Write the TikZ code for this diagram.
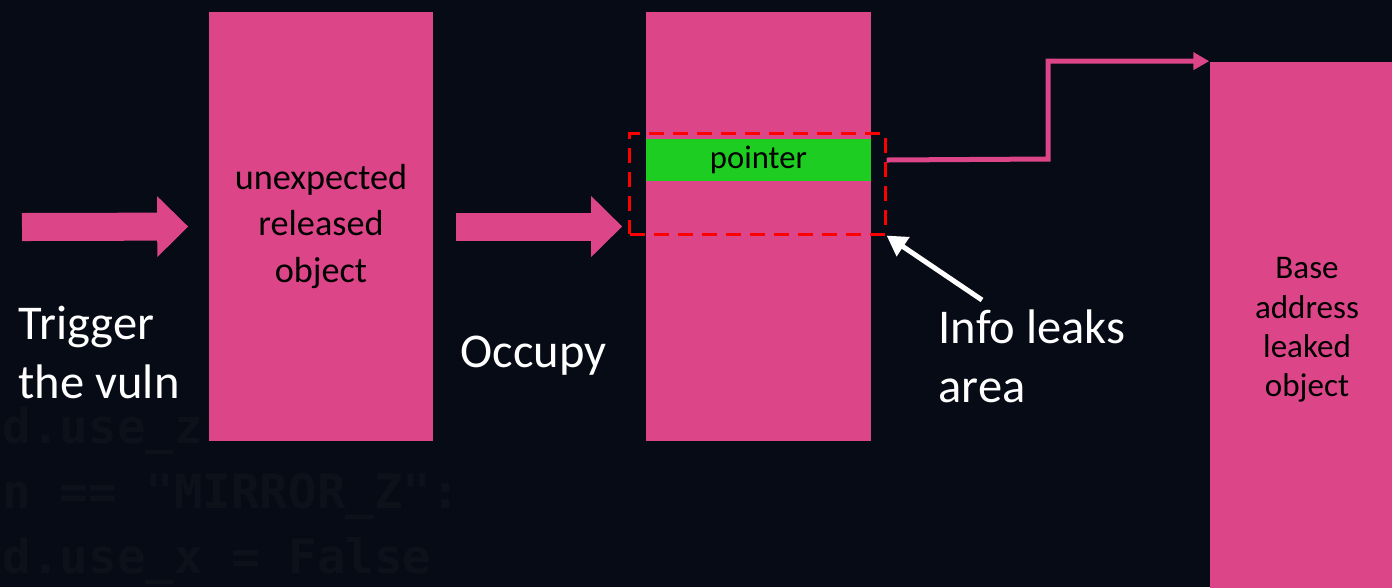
\documentclass[tikz,border=0pt]{standalone}
\usepackage{fontspec}
\setmainfont{Carlito}
\newfontfamily\codefont{DejaVu Sans Mono}
\usetikzlibrary{arrows.meta}

\definecolor{slidebg}{HTML}{060B16}
\definecolor{objpink}{HTML}{DC4689}
\definecolor{ptrgreen}{HTML}{1ECD22}
\definecolor{codegray}{HTML}{0C111A}

\begin{document}
\begin{tikzpicture}[x=0.01cm,y=-0.01cm]

        \useasboundingbox (0,0) rectangle (1392,587);
        \fill[slidebg] (0,0) rectangle (1392,587);

        % faint code lines in the backdrop
        \begin{scope}[every node/.style={anchor=base west, inner sep=0, text=codegray,
            font=\codefont\bfseries\fontsize{13.5}{16}\selectfont}]
          \node (code1) at (2,443) {d.use\_z =};
          \node (code2) at (2,508) {n == "MIRROR\_Z":};
          \node (code3) at (2,573) {d.use\_x = False};
        \end{scope}

        % the three objects
        \begin{scope}[every node/.style={fill=objpink, text=black, align=center, inner sep=0}]
          \node[minimum width=2.24cm, minimum height=4.29cm,
            font=\fontsize{10.3}{13.1}\selectfont] (freed) at (321,226.5) {unexpected\\released\\object};
          \node[minimum width=2.25cm, minimum height=4.29cm] (spray) at (758.5,226.5) {};
          \node[minimum width=1.94cm, minimum height=5.36cm,
            font=\fontsize{9.4}{11.2}\selectfont] (leaked) at (1307,330) {Base\\address\\leaked\\object};
        \end{scope}

        \node[fill=ptrgreen, inner sep=0, minimum width=2.25cm, minimum height=0.42cm,
          font=\fontsize{9.3}{11}\selectfont] (pointer) at (758.5,160) {pointer};
        \node[draw=red, line width=0.03cm, dash pattern=on 0.15cm off 0.09cm,
          minimum width=2.55cm, minimum height=1cm] (leakarea) at (757.5,184) {};

        % big block arrows
        \coordinate (start) at (22,227);
        \begin{scope}[objpink, line width=0.28cm, -{Triangle[length=0.31cm,width=0.59cm]}]
          \draw[shorten >=0.2cm] (start) -- (freed.west);
          \draw[shorten <=0.22cm, shorten >=0.23cm] (freed.east) -- (spray.west);
        \end{scope}

        % pointer to the leaked object
        \coordinate (jog) at (1048,159);
        \draw[objpink, line width=0.05cm, -{Triangle[length=0.16cm,width=0.17cm]}]
          (pointer.east -| leakarea.east) -- (jog) |- (leaked.north west);

        \coordinate (leaktail) at (982,300);
        \draw[white, line width=0.05cm, -{Triangle[length=0.2cm,width=0.22cm]}]
          (leaktail) -- (leakarea.south east);

        % labels (base = last line)
        \begin{scope}[every node/.style={text=white, align=left, inner sep=0, anchor=base west,
            font=\fontsize{13.8}{16.6}\selectfont}]
          \node (trigger) at (18,398) {Trigger\\the vuln};
          \node (occupy) at (460,367) {Occupy};
          \node (infoleak) at (938,402) {Info leaks\\area};
        \end{scope}

      \end{tikzpicture}
\end{document}
